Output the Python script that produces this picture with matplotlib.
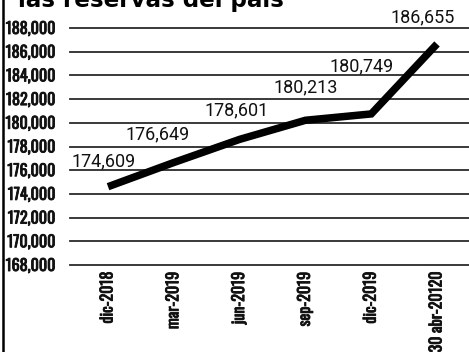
import matplotlib
matplotlib.use("Agg")
import matplotlib.pyplot as plt
import matplotlib.patheffects as pe
from matplotlib.lines import Line2D

categories = ["dic-2018", "mar-2019", "jun-2019", "sep-2019", "dic-2019", "30 abr-20120"]
values = [174609, 176649, 178601, 180213, 180749, 186655]
value_labels = ["174,609", "176,649", "178,601", "180,213", "180,749", "186,655"]
y_ticks = list(range(168000, 188001, 2000))
y_tick_labels = [f"{v:,}" for v in y_ticks]
title = "las reservas del país"

# label offsets in pixels (dx, dy) relative to each point
label_offsets = [(-4, 25), (-16, 28), (-3, 29), (0, 33), (-10, 48), (-14, 27)]

COND = ["Oswald", "Barlow Condensed", "DejaVu Sans"]
REG = ["Roboto", "Liberation Sans", "DejaVu Sans"]

W, H = 469, 352
dpi = 100
fig = plt.figure(figsize=(W / dpi, H / dpi), dpi=dpi)
fig.patch.set_facecolor("white")

left_px, right_px = 70, 469
top_px, bot_px = 28, 265
ax = fig.add_axes([left_px / W, 1 - bot_px / H, (right_px - left_px) / W, (bot_px - top_px) / H])

x = list(range(len(categories)))
ax.set_ylim(168000, 188000)
ax.set_xlim(-0.578, 5.486)

for v in y_ticks:
    ax.axhline(v, color="#2a2a2a", lw=1.3, zorder=1, clip_on=False)

ax.plot(x, values, color="black", lw=5.4, solid_capstyle="butt", solid_joinstyle="miter", zorder=3)

px = 72 / dpi  # points per pixel
for xi, v, lab, (dx, dy) in zip(x, values, value_labels, label_offsets):
    ax.annotate(lab, (xi, v), xytext=(dx * px, dy * px), textcoords="offset points",
                ha="center", va="center", fontsize=13, family=REG, color="#111111",
                zorder=4)

for s in ax.spines.values():
    s.set_visible(False)

thick = [pe.withStroke(linewidth=0.6, foreground="#111111")]
ax.set_yticks(y_ticks)
ax.set_yticklabels(y_tick_labels, family=COND, fontsize=11.5, fontweight="medium", color="#111111")
ax.set_xticks(x)
ax.set_xticklabels(categories, rotation=90, family=COND, fontsize=11.5,
                   fontweight="medium", va="top", color="#111111")
for t in ax.get_xticklabels() + ax.get_yticklabels():
    t.set_path_effects(thick)
ax.tick_params(axis="y", length=0, pad=11)
ax.tick_params(axis="x", length=0, pad=5)

fig.text(18 / W, 1 - 7 / H, title, ha="left", va="baseline", fontsize=16.6,
         family="DejaVu Sans", fontweight="bold", color="black")

fig.add_artist(Line2D([3 / W, 3 / W], [0, 1], color="black", lw=1.8, transform=fig.transFigure))

fig.savefig("out.png", dpi=dpi)
